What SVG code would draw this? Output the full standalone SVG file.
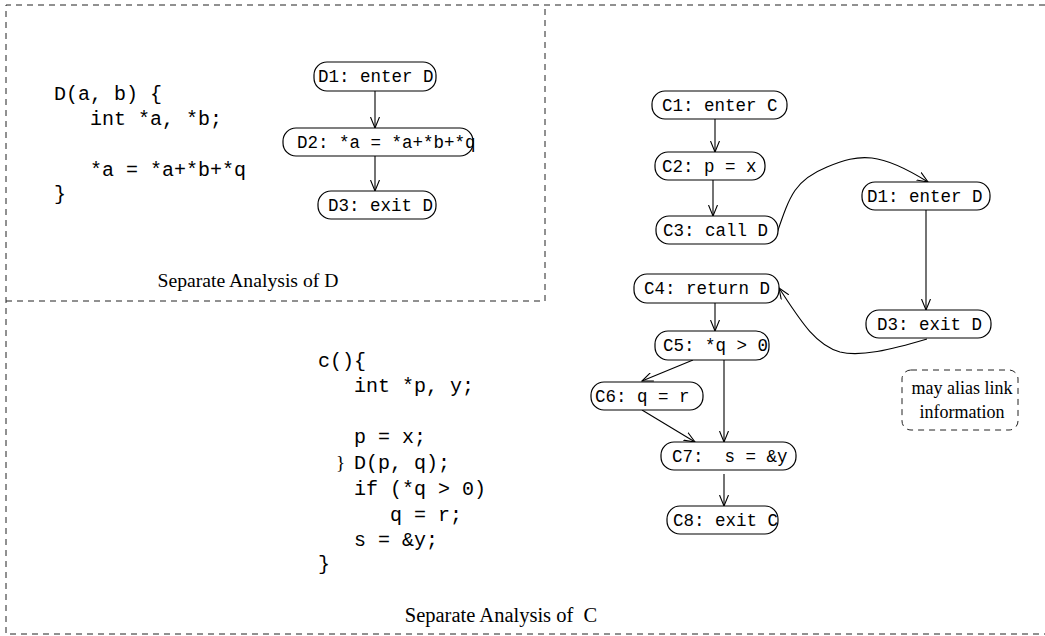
<svg xmlns="http://www.w3.org/2000/svg" width="1045" height="636" viewBox="0 0 1045 636">
<style>
.frame{fill:none;stroke:#222;stroke-width:1;stroke-dasharray:6,5}
.node rect{fill:#fff;stroke:#000;stroke-width:1.2}
.node text,.code{font-family:"Liberation Mono","Courier New",monospace;fill:#000}
.node text{font-size:17.5px}
.code{font-size:20px}
.cap{font-family:"Liberation Serif","Times New Roman",serif;font-size:19.7px;fill:#000}
.note{font-family:"Liberation Serif","Times New Roman",serif;font-size:18px;fill:#000}
.edge{fill:none;stroke:#000;stroke-width:1.1;marker-end:url(#ah)}
</style>
<defs>
<marker id="ah" viewBox="0 0 12 10" refX="11" refY="5" markerWidth="12" markerHeight="10" markerUnits="userSpaceOnUse" orient="auto">
<path d="M0,0.5 L11,5 L0,9.5" fill="none" stroke="#000" stroke-width="1.1"/>
</marker>
</defs>
<rect width="1045" height="636" fill="#fff"/>
<g id="frames">
<path class="frame" d="M1045,5 H6 V634 H1045"/>
<path class="frame" d="M6,301 H545 V5"/>
</g>
<g id="code-D">
<text class="code" x="54" y="100">D(a, b) {</text>
<text class="code" x="90" y="125">int *a, *b;</text>
<text class="code" x="90" y="176">*a = *a+*b+*q</text>
<text class="code" x="54" y="200">}</text>
<text class="cap" x="248" y="287" text-anchor="middle">Separate Analysis of D</text>
</g>
<g id="code-C">
<text class="code" x="318" y="367">c(){</text>
<text class="code" x="354" y="392">int *p, y;</text>
<text class="code" x="354" y="443">p = x;</text>
<text class="code" x="336" y="469" style="font-family:'Liberation Serif',serif;font-size:19px">}</text>
<text class="code" x="354" y="469">D(p, q);</text>
<text class="code" x="354" y="495">if (*q &gt; 0)</text>
<text class="code" x="390" y="521">q = r;</text>
<text class="code" x="354" y="546">s = &amp;y;</text>
<text class="code" x="318" y="570">}</text>
<text class="cap" x="501" y="622" text-anchor="middle" xml:space="preserve" style="font-size:20.5px">Separate Analysis of  C</text>
</g>
<g id="connectors">
<line class="edge" x1="375" y1="91" x2="375" y2="128"/>
<line class="edge" x1="375" y1="156" x2="375" y2="191"/>
<line class="edge" x1="715" y1="119" x2="715" y2="152"/>
<line class="edge" x1="713" y1="180" x2="713" y2="216"/>
<line class="edge" x1="715" y1="303" x2="715" y2="331"/>
<line class="edge" x1="693" y1="360" x2="642" y2="381"/>
<line class="edge" x1="724" y1="360" x2="724" y2="442"/>
<line class="edge" x1="642" y1="410" x2="695" y2="442"/>
<line class="edge" x1="724" y1="474" x2="724" y2="506"/>
<line class="edge" x1="926" y1="210" x2="926" y2="310"/>
<path class="edge" d="M777,233 C790,195 795,180 827,167 C860,153 880,152 928,182"/>
<path class="edge" d="M927,339 C890,350 860,357 840,352 C815,345 800,320 779,288"/>
</g>
<g id="D1" class="node"><rect x="314" y="62" width="122" height="29" rx="13"/><text x="318" y="82">D1: enter D</text></g>
<g id="D2" class="node"><rect x="283" y="128" width="190" height="28" rx="13"/><text x="297" y="148">D2: *a = *a+*b+*q</text></g>
<g id="D3" class="node"><rect x="318" y="191" width="118" height="28" rx="13"/><text x="328" y="211">D3: exit D</text></g>
<g id="C1" class="node"><rect x="652" y="91" width="135" height="28" rx="13"/><text x="662" y="111">C1: enter C</text></g>
<g id="C2" class="node"><rect x="655" y="152" width="110" height="28" rx="13"/><text x="662" y="172">C2: p = x</text></g>
<g id="C3" class="node"><rect x="656" y="216" width="122" height="28" rx="13"/><text x="663" y="236">C3: call D</text></g>
<g id="C4" class="node"><rect x="634" y="274" width="145" height="29" rx="13"/><text x="644" y="294">C4: return D</text></g>
<g id="C5" class="node"><rect x="655" y="331" width="114" height="29" rx="13"/><text x="663" y="351">C5: *q &gt; 0</text></g>
<g id="C6" class="node"><rect x="591" y="382" width="112" height="28" rx="13"/><text x="595" y="402">C6: q = r</text></g>
<g id="C7" class="node"><rect x="661" y="442" width="135" height="28" rx="13"/><text x="672" y="462" xml:space="preserve">C7:  s = &amp;y</text></g>
<g id="C8" class="node"><rect x="667" y="506" width="111" height="28" rx="13"/><text x="673" y="526">C8: exit C</text></g>
<g id="D1b" class="node"><rect x="862" y="182" width="128" height="28" rx="13"/><text x="867" y="202">D1: enter D</text></g>
<g id="D3b" class="node"><rect x="866" y="310" width="125" height="28" rx="13"/><text x="877" y="330">D3: exit D</text></g>
<g id="note">
<rect x="902" y="370" width="116" height="60" rx="9" fill="none" stroke="#222" stroke-width="1" stroke-dasharray="6,5"/>
<text class="note" x="962" y="394" text-anchor="middle">may alias link</text>
<text class="note" x="962" y="418" text-anchor="middle">information</text>
</g>
</svg>
